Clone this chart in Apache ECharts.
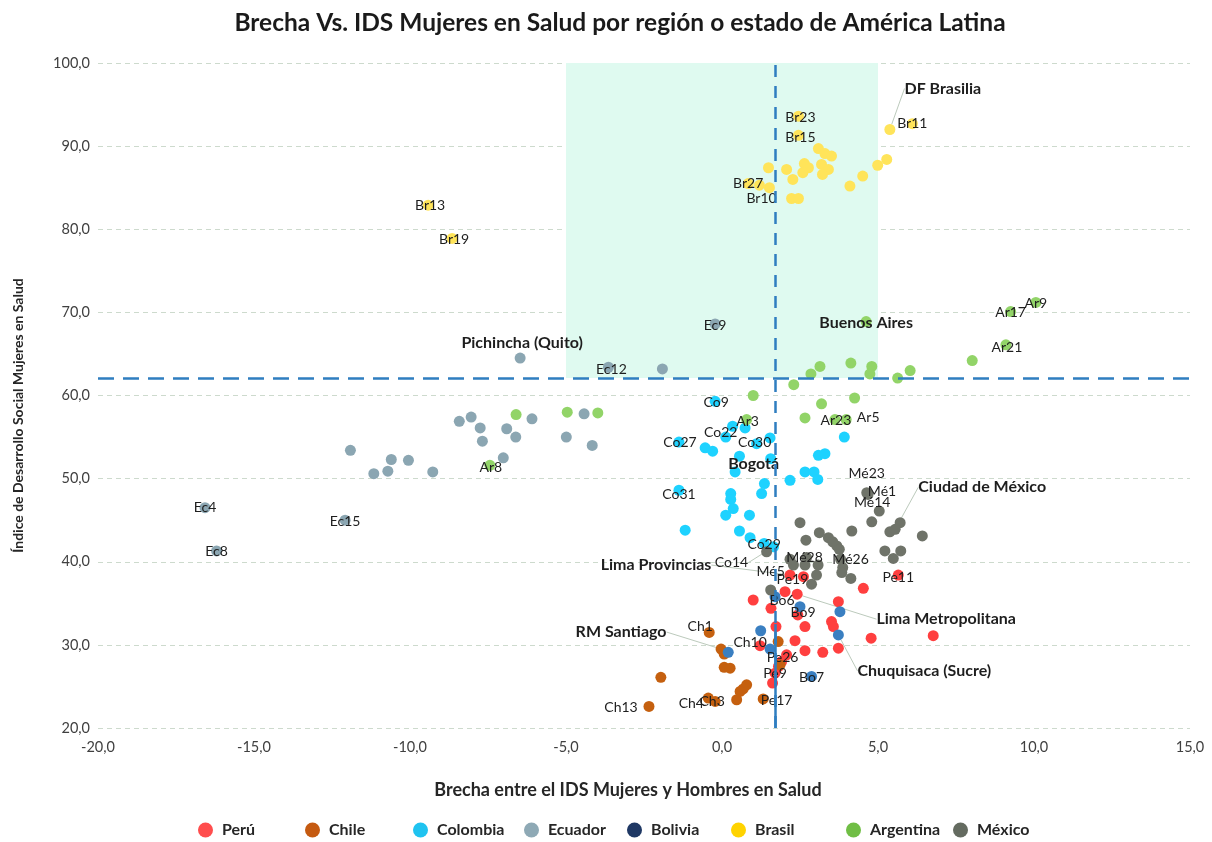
<!DOCTYPE html>
<html>
<head>
<meta charset="utf-8">
<script src="https://cdn.jsdelivr.net/npm/echarts@6/dist/echarts.min.js"></script>
<style>
  html, body { margin: 0; padding: 0; background: #ffffff; }
  #chart { width: 1212px; height: 842px; }
</style>
</head>
<body>
<div id="chart"></div>
<script>
// Brecha (x) vs IDS Mujeres en Salud (y) por región
const countries = ['Perú', 'Chile', 'Colombia', 'Ecuador', 'Bolivia', 'Brasil', 'Argentina', 'México'];

const xTicks = { min: -20, max: 15, interval: 5 };
const yTicks = { min: 20, max: 100, interval: 10 };

// Reference lines: mean gap (vertical) and mean IDS (horizontal)
const meanGap = 1.7;
const meanIDS = 62.1;
const zoneGap = [-5, 5];

const peruPoints = [[5.65,38.4],[4.53,36.8],[2.18,38.4],[2.61,38.2],[2.02,36.4],[2.41,36.1],[1.00,35.4],[1.57,34.4],[3.73,35.2],[2.43,33.6],[1.73,32.2],[2.66,32.2],[3.51,32.8],[3.57,32.2],[4.78,30.8],[6.77,31.1],[2.34,30.5],[1.22,29.9],[2.66,29.3],[3.23,29.1],[3.73,29.6],[2.07,28.8],[1.91,28.0],[1.81,27.4],[1.70,26.6],[1.62,25.4]];
const peruLabels = ['Pe11','','Lima Provincias','Pe19','','Lima Metropolitana','','','','','','','','','','','','','','','','','Pe26','','Pe9','Pe17'];

const chilePoints = [[-0.41,31.5],[-0.03,29.5],[0.07,28.9],[1.80,30.4],[0.07,27.3],[0.26,27.2],[-1.96,26.1],[0.79,25.2],[0.68,24.7],[0.58,24.4],[0.47,23.4],[-2.34,22.6],[-0.44,23.6],[-0.22,23.2],[1.32,23.5],[1.86,27.6]];
const chileLabels = ['Ch1','RM Santiago','','Ch10','','','','','','','','Ch13','Ch4','Ch3','',''];

const colombiaPoints = [[-0.22,59.3],[0.34,56.3],[0.74,56.1],[0.12,55.0],[1.54,54.9],[1.11,54.2],[-1.38,54.4],[-0.54,53.7],[-0.30,53.3],[0.56,52.7],[1.56,52.4],[0.42,50.8],[3.92,55.0],[3.09,52.8],[3.30,53.0],[2.18,49.8],[2.66,50.8],[2.95,50.8],[3.07,49.9],[1.36,49.4],[1.27,48.2],[-1.38,48.6],[0.28,48.2],[0.28,47.5],[0.36,46.4],[0.12,45.6],[0.88,45.6],[-1.18,43.8],[0.56,43.7],[0.90,42.9],[1.35,42.2],[1.65,41.8]];
const colombiaLabels = ['Co9','','','Co22','','Co30','Co27','','','','Bogotá','','','','','','','','','','','Co31','','','','','','','','','Co29','Co14'];

const ecuadorPoints = [[-6.47,64.5],[-3.64,63.4],[-1.91,63.2],[-0.22,68.6],[-8.42,56.9],[-8.04,57.4],[-7.75,56.1],[-6.90,56.0],[-6.09,57.2],[-4.42,57.8],[-7.68,54.5],[-6.61,55.0],[-4.99,55.0],[-4.16,54.0],[-11.91,53.4],[-10.60,52.3],[-10.05,52.2],[-7.01,52.5],[-11.16,50.6],[-10.71,50.9],[-9.27,50.8],[-16.57,46.5],[-12.08,45.0],[-16.20,41.3]];
const ecuadorLabels = ['Pichincha (Quito)','Ec12','','Ec9','','','','','','','','','','','','','','','','','','Ec4','Ec15','Ec8'];

const boliviaPoints = [[1.70,35.8],[2.50,34.6],[3.78,34.0],[3.73,31.2],[1.24,31.7],[1.54,29.5],[0.20,29.1],[2.87,26.2]];
const boliviaLabels = ['Bo6','Bo9','','Chuquisaca (Sucre)','','','','Bo7'];

const brasilPoints = [[2.45,93.6],[2.45,91.3],[5.38,92.0],[6.10,92.7],[-9.42,82.9],[-8.65,78.9],[3.09,89.7],[3.30,89.1],[3.51,88.8],[1.49,87.4],[2.07,87.2],[2.64,87.9],[2.77,87.4],[2.59,86.8],[3.19,87.8],[3.41,87.2],[3.22,86.6],[2.27,86.0],[4.10,85.2],[4.51,86.4],[4.99,87.7],[5.28,88.4],[0.84,85.5],[1.20,85.3],[1.52,85.0],[2.23,83.7],[2.45,83.7]];
const brasilLabels = ['Br23','Br15','DF Brasilia','Br11','Br13','Br19','','','','','','','','','','','','','','','','','Br27','','','Br10',''];

const argentinaPoints = [[-7.44,51.6],[-6.60,57.7],[-4.96,58.0],[-3.98,57.9],[1.00,60.0],[2.30,61.3],[3.19,59.0],[4.25,59.7],[2.66,57.3],[0.79,57.1],[3.62,57.1],[3.98,57.1],[4.62,68.9],[9.25,70.1],[10.06,71.2],[9.10,66.1],[8.02,64.2],[3.14,63.5],[2.85,62.6],[4.13,63.9],[4.80,63.5],[4.74,62.6],[6.03,63.0],[5.63,62.1]];
const argentinaLabels = ['Ar8','','','','','','','','','Ar3','Ar23','Ar5','Buenos Aires','Ar17','Ar9','Ar21','','','','','','','',''];

const mexicoPoints = [[4.64,48.3],[4.68,48.1],[5.04,46.1],[2.50,44.7],[3.12,43.5],[2.69,42.6],[3.41,42.9],[3.55,42.4],[3.68,41.9],[3.76,41.5],[4.16,43.7],[4.80,44.8],[5.38,43.6],[5.71,44.7],[5.55,43.9],[6.42,43.1],[5.22,41.3],[5.73,41.3],[5.49,40.4],[1.43,41.2],[2.29,39.6],[2.71,40.5],[2.66,39.6],[3.80,40.3],[3.87,39.3],[3.84,38.7],[4.13,38.0],[3.03,38.4],[2.87,37.3],[1.56,36.6],[2.18,40.3],[3.08,39.6]];
const mexicoLabels = ['Mé23','Mé1','Mé14','','','','','','','','','','','','Ciudad de México','','','','','','','Mé28','','Mé26','','','','','','Mé5','',''];

const pointColors = ['#FF3F3F', '#C5600F', '#1ED2FF', '#8BA6B2', '#3A7FC1', '#FFE45A', '#92D468', '#6F7369'];
const legendColors = ['#FF4D4D', '#C55A11', '#1FC3F0', '#8EA9B5', '#1F3864', '#FFD300', '#70BE45', '#646B60'];
const legendLeft = [193, 300, 408, 519, 622, 726, 841, 948];

const seriesPoints = [peruPoints, chilePoints, colombiaPoints, ecuadorPoints, boliviaPoints, brasilPoints, argentinaPoints, mexicoPoints];
const seriesLabels = [peruLabels, chileLabels, colombiaLabels, ecuadorLabels, boliviaLabels, brasilLabels, argentinaLabels, mexicoLabels];

// Label placement (pixel shift from the point centre)
const labelShift = {
  'Br23': [2, 1], 'Br15': [2, 2], 'DF Brasilia': [53, -41], 'Br11': [0, 0], 'Br13': [2, 0], 'Br19': [2, 1],
  'Br27': [0, 0], 'Br10': [-30, 0],
  'Pichincha (Quito)': [2, -15], 'Ec12': [3, 2], 'Ec9': [0, 1], 'Ec4': [0, 0], 'Ec15': [0, 1], 'Ec8': [0, 1],
  'Ar8': [1, 2], 'Buenos Aires': [0, 1], 'Ar17': [0, 1], 'Ar9': [0, 1], 'Ar21': [1, 3], 'Ar3': [1, 2], 'Ar23': [1, 1], 'Ar5': [22, -2],
  'Co9': [1, 1], 'Co22': [-5, -5], 'Co30': [-2, -1], 'Co27': [1, 0], 'Bogotá': [-17, 5], 'Co31': [0, 4], 'Co29': [0, 1], 'Co14': [-42, 16],
  'Lima Provincias': [-134, -10], 'Pe19': [-11, 3], 'Mé5': [0, -19], 'Mé28': [-2, 0], 'Mé26': [10, 0],
  'Mé23': [0, -19], 'Mé1': [14, -3], 'Mé14': [-7, -9], 'Ciudad de México': [87, -42], 'Pe11': [0, 2],
  'Lima Metropolitana': [149, 25], 'Bo6': [7, 4], 'Bo9': [3, 6], 'Chuquisaca (Sucre)': [86, 36], 'Bo7': [0, 1],
  'RM Santiago': [-100, -17], 'Ch1': [-9, -6], 'Ch10': [-28, 1], 'Pe26': [1, -4], 'Pe9': [0, 0], 'Pe17': [4, 17],
  'Ch13': [-28, 1], 'Ch4': [-17, 5], 'Ch3': [-3, 0]
};
const boldLabels = new Set(['DF Brasilia', 'Pichincha (Quito)', 'Buenos Aires', 'Bogotá', 'Lima Provincias',
  'Ciudad de México', 'Lima Metropolitana', 'Chuquisaca (Sucre)', 'RM Santiago']);
const leaderLabels = new Set(['DF Brasilia', 'Ciudad de México', 'Lima Metropolitana', 'Chuquisaca (Sucre)',
  'RM Santiago', 'Lima Provincias', 'Co14']);

const FONT = 'Lato, "Noto Sans", sans-serif';
const fmt = v => v.toFixed(1).replace('.', ',');

function buildData(points, labels) {
  return points.map((p, i) => {
    const t = labels[i];
    const item = { value: p, name: t };
    if (t) {
      const bold = boldLabels.has(t);
      item.label = { show: true, fontWeight: bold ? 'bold' : 'normal', fontSize: bold ? 16 : 14 };
      if (leaderLabels.has(t)) item.labelLine = { show: true };
    }
    return item;
  });
}

function layoutFor(labels) {
  return function (p) {
    const s = labelShift[labels[p.dataIndex]];
    return s ? { dx: s[0], dy: s[1] } : {};
  };
}

const pointSeries = countries.map((c, i) => ({
  name: c,
  type: 'scatter',
  z: 3,
  symbol: 'circle',
  symbolSize: 11,
  itemStyle: { color: pointColors[i], opacity: 1 },
  data: buildData(seriesPoints[i], seriesLabels[i]),
  label: { show: false, position: 'inside', formatter: '{b}', color: '#1e1e1e', fontFamily: FONT },
  labelLine: { show: false, lineStyle: { color: '#bccabc', width: 1 } },
  labelLayout: layoutFor(seriesLabels[i]),
  emphasis: { disabled: true }
}));

const zoneSeries = {
  type: 'scatter', data: [], z: 1, silent: true,
  markArea: {
    silent: true,
    itemStyle: { color: '#DFFAF0' },
    data: [[{ coord: [zoneGap[0], meanIDS] }, { coord: [zoneGap[1], yTicks.max] }]]
  }
};

const meanLineStyle = { color: '#2F7EC0', width: 2.5 };
const lineSeries = {
  type: 'scatter', data: [], z: 4, silent: true,
  markLine: {
    silent: true, symbol: 'none', label: { show: false },
    data: [
      [{ coord: [meanGap, yTicks.min], lineStyle: Object.assign({ type: [12, 9] }, meanLineStyle) },
       { coord: [meanGap, yTicks.max] }],
      [{ coord: [xTicks.min, meanIDS], lineStyle: Object.assign({ type: [16, 9] }, meanLineStyle) },
       { coord: [xTicks.max, meanIDS] }],
      [{ coord: [meanGap, yTicks.min], lineStyle: Object.assign({ type: 'solid' }, meanLineStyle) },
       { coord: [meanGap, 32.5] }]
    ]
  }
};

const legends = countries.map((c, i) => ({
  data: [{ name: c, itemStyle: { color: legendColors[i] } }],
  left: legendLeft[i], top: 817,
  icon: 'circle', itemWidth: 15, itemHeight: 15,
  selectedMode: false,
  textStyle: { fontFamily: FONT, fontWeight: 'bold', fontSize: 16, color: '#262626', padding: [0, 0, 0, 4] }
}));

const chart = echarts.init(document.getElementById('chart'), null, { renderer: 'canvas' });
chart.setOption({
  animation: false,
  backgroundColor: '#ffffff',
  title: {
    text: 'Brecha Vs. IDS Mujeres en Salud por región o estado de América Latina',
    left: 615, textAlign: 'center', top: 6,
    textStyle: { fontFamily: FONT, fontWeight: 'bold', fontSize: 24.5, color: '#1a1a1a' }
  },
  legend: legends,
  grid: { left: 98, right: 22, top: 63, bottom: 114, containLabel: false },
  xAxis: {
    type: 'value', min: xTicks.min, max: xTicks.max, interval: xTicks.interval,
    name: 'Brecha entre el IDS Mujeres y Hombres en Salud',
    nameLocation: 'middle', nameGap: 53,
    nameTextStyle: { fontFamily: FONT, fontWeight: 'bold', fontSize: 18, color: '#262626', padding: [0, 32, 0, 0] },
    axisLine: { show: false }, axisTick: { show: false }, splitLine: { show: false },
    axisLabel: { formatter: fmt, fontFamily: FONT, fontSize: 14.5, color: '#404040', margin: 12 }
  },
  yAxis: {
    type: 'value', min: yTicks.min, max: yTicks.max, interval: yTicks.interval,
    name: 'Índice de Desarrollo Social Mujeres en Salud',
    nameLocation: 'middle', nameGap: 73, nameRotate: 90,
    nameTextStyle: { fontFamily: FONT, fontWeight: 'bold', fontSize: 14, color: '#262626', padding: [0, 40, 0, 0] },
    axisLine: { show: false }, axisTick: { show: false },
    splitLine: { show: true, lineStyle: { color: '#cddacd', type: [5, 4], width: 1 } },
    axisLabel: { formatter: fmt, fontFamily: FONT, fontSize: 14.5, color: '#404040', margin: 8 }
  },
  series: [zoneSeries].concat(pointSeries, [lineSeries])
});
</script>
</body>
</html>
